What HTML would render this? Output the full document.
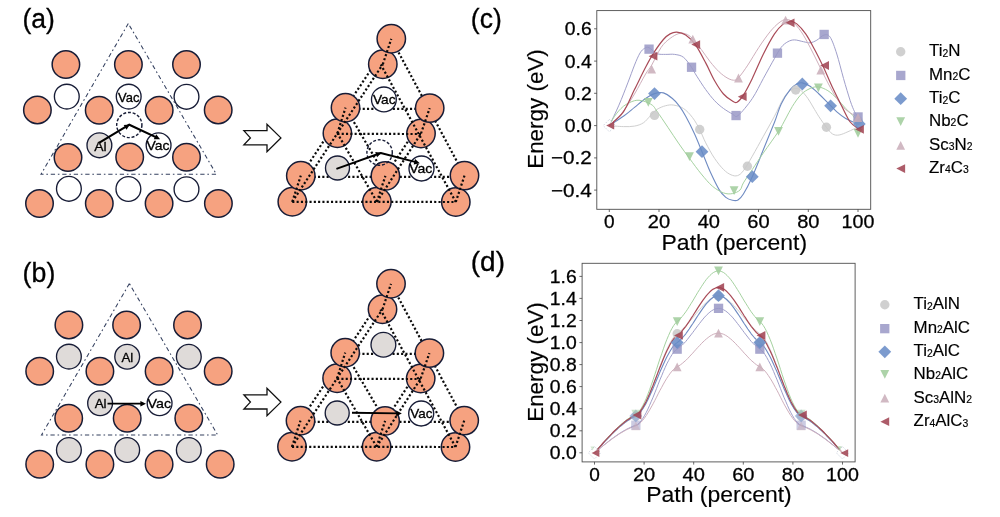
<!DOCTYPE html>
<html><head><meta charset="utf-8"><title>figure</title>
<style>
html,body{margin:0;padding:0;background:#fff;}
body{width:1000px;height:517px;overflow:hidden;}
svg{display:block;filter:blur(0.3px);font-family:'Liberation Sans', sans-serif;}
</style></head><body>
<svg width="1000" height="517" viewBox="0 0 1000 517">
<rect width="1000" height="517" fill="#fff"/>
<circle cx="65.9" cy="64.6" r="13.75" fill="#f6a280" stroke="#171c36" stroke-width="1.5"/>
<circle cx="128.4" cy="64.6" r="13.75" fill="#f6a280" stroke="#171c36" stroke-width="1.5"/>
<circle cx="186.5" cy="64.6" r="13.75" fill="#f6a280" stroke="#171c36" stroke-width="1.5"/>
<circle cx="37.4" cy="109.9" r="13.75" fill="#f6a280" stroke="#171c36" stroke-width="1.5"/>
<circle cx="99.2" cy="110.3" r="13.75" fill="#f6a280" stroke="#171c36" stroke-width="1.5"/>
<circle cx="159.2" cy="110.3" r="13.75" fill="#f6a280" stroke="#171c36" stroke-width="1.5"/>
<circle cx="218.2" cy="109.9" r="13.75" fill="#f6a280" stroke="#171c36" stroke-width="1.5"/>
<circle cx="68.0" cy="157.6" r="13.75" fill="#f6a280" stroke="#171c36" stroke-width="1.5"/>
<circle cx="129.7" cy="157.0" r="13.75" fill="#f6a280" stroke="#171c36" stroke-width="1.5"/>
<circle cx="186.5" cy="157.3" r="13.75" fill="#f6a280" stroke="#171c36" stroke-width="1.5"/>
<circle cx="39.5" cy="203.6" r="13.75" fill="#f6a280" stroke="#171c36" stroke-width="1.5"/>
<circle cx="99.3" cy="203.6" r="13.75" fill="#f6a280" stroke="#171c36" stroke-width="1.5"/>
<circle cx="159.1" cy="203.6" r="13.75" fill="#f6a280" stroke="#171c36" stroke-width="1.5"/>
<circle cx="218.4" cy="203.6" r="13.75" fill="#f6a280" stroke="#171c36" stroke-width="1.5"/>
<circle cx="66.8" cy="96.6" r="12.40" fill="#ffffff" stroke="#171c36" stroke-width="1.35"/>
<circle cx="128.7" cy="96.6" r="12.40" fill="#ffffff" stroke="#171c36" stroke-width="1.35"/>
<circle cx="186.5" cy="96.8" r="12.40" fill="#ffffff" stroke="#171c36" stroke-width="1.35"/>
<circle cx="68.9" cy="188.8" r="12.40" fill="#ffffff" stroke="#171c36" stroke-width="1.35"/>
<circle cx="128.4" cy="189.0" r="12.40" fill="#ffffff" stroke="#171c36" stroke-width="1.35"/>
<circle cx="186.5" cy="189.2" r="12.40" fill="#ffffff" stroke="#171c36" stroke-width="1.35"/>
<circle cx="158.6" cy="145.3" r="12.40" fill="#ffffff" stroke="#171c36" stroke-width="1.35"/>
<circle cx="99.4" cy="145.3" r="12.40" fill="#dfdbd9" stroke="#171c36" stroke-width="1.35"/>
<circle cx="129.3" cy="125.0" r="12.60" fill="none" stroke="#171c36" stroke-width="1.45" stroke-dasharray="3 1.8"/>
<path d="M128.3 23.5 L41.0 174.3 L216.4 174.3 Z" fill="none" stroke="#34405f" stroke-width="1.05" stroke-dasharray="4.3 2.8 1.6 2.8"/>
<text x="128.8" y="102.3" font-size="12.6" text-anchor="middle" fill="#000" stroke="#000" stroke-width="0.3" textLength="21.4" lengthAdjust="spacingAndGlyphs">Vac</text>
<text x="158.1" y="150.4" font-size="13.3" text-anchor="middle" fill="#000" stroke="#000" stroke-width="0.3" textLength="23.0" lengthAdjust="spacingAndGlyphs">Vac</text>
<text x="100.5" y="150.9" font-size="13.6" text-anchor="middle" fill="#000" stroke="#000" stroke-width="0.3" textLength="12.4" lengthAdjust="spacingAndGlyphs">Al</text>
<path d="M99.4 142.6 L129.3 124.7 L157.4 137.9" fill="none" stroke="#000" stroke-width="2.15" stroke-linejoin="round"/>
<circle cx="68.9" cy="324.9" r="13.75" fill="#f6a280" stroke="#171c36" stroke-width="1.5"/>
<circle cx="126.6" cy="324.9" r="13.75" fill="#f6a280" stroke="#171c36" stroke-width="1.5"/>
<circle cx="187.5" cy="324.9" r="13.75" fill="#f6a280" stroke="#171c36" stroke-width="1.5"/>
<circle cx="39.7" cy="371.2" r="13.75" fill="#f6a280" stroke="#171c36" stroke-width="1.5"/>
<circle cx="99.9" cy="371.2" r="13.75" fill="#f6a280" stroke="#171c36" stroke-width="1.5"/>
<circle cx="159.1" cy="371.2" r="13.75" fill="#f6a280" stroke="#171c36" stroke-width="1.5"/>
<circle cx="218.2" cy="371.2" r="13.75" fill="#f6a280" stroke="#171c36" stroke-width="1.5"/>
<circle cx="68.7" cy="418.3" r="13.75" fill="#f6a280" stroke="#171c36" stroke-width="1.5"/>
<circle cx="127.2" cy="418.3" r="13.75" fill="#f6a280" stroke="#171c36" stroke-width="1.5"/>
<circle cx="188.8" cy="418.3" r="13.75" fill="#f6a280" stroke="#171c36" stroke-width="1.5"/>
<circle cx="39.7" cy="464.3" r="13.75" fill="#f6a280" stroke="#171c36" stroke-width="1.5"/>
<circle cx="99.9" cy="464.3" r="13.75" fill="#f6a280" stroke="#171c36" stroke-width="1.5"/>
<circle cx="159.1" cy="464.3" r="13.75" fill="#f6a280" stroke="#171c36" stroke-width="1.5"/>
<circle cx="220.2" cy="464.3" r="13.75" fill="#f6a280" stroke="#171c36" stroke-width="1.5"/>
<circle cx="68.9" cy="356.6" r="12.40" fill="#dfdbd9" stroke="#171c36" stroke-width="1.35"/>
<circle cx="127.2" cy="356.8" r="12.40" fill="#dfdbd9" stroke="#171c36" stroke-width="1.35"/>
<circle cx="188.8" cy="356.8" r="12.40" fill="#dfdbd9" stroke="#171c36" stroke-width="1.35"/>
<circle cx="68.9" cy="450.0" r="12.40" fill="#dfdbd9" stroke="#171c36" stroke-width="1.35"/>
<circle cx="127.2" cy="450.0" r="12.40" fill="#dfdbd9" stroke="#171c36" stroke-width="1.35"/>
<circle cx="188.8" cy="450.0" r="12.40" fill="#dfdbd9" stroke="#171c36" stroke-width="1.35"/>
<circle cx="100.1" cy="403.2" r="12.40" fill="#dfdbd9" stroke="#171c36" stroke-width="1.35"/>
<circle cx="159.6" cy="403.2" r="12.40" fill="#ffffff" stroke="#171c36" stroke-width="1.35"/>
<path d="M129.4 283.6 L41.5 435.0 L217.7 435.0 Z" fill="none" stroke="#34405f" stroke-width="1.05" stroke-dasharray="4.3 2.8 1.6 2.8"/>
<text x="127.4" y="361.6" font-size="13.4" text-anchor="middle" fill="#000" stroke="#000" stroke-width="0.3">Al</text>
<text x="100.6" y="407.9" font-size="13.4" text-anchor="middle" fill="#000" stroke="#000" stroke-width="0.3">Al</text>
<text x="159.3" y="408.1" font-size="13.4" text-anchor="middle" fill="#000" stroke="#000" stroke-width="0.3" textLength="23.5" lengthAdjust="spacingAndGlyphs">Vac</text>
<path d="M107.5 403.7 L142.5 403.7" fill="none" stroke="#000" stroke-width="1.8"/>
<text x="22.4" y="27.6" font-size="27" text-anchor="start" fill="#000" stroke="#000" stroke-width="0.3" textLength="32.4" lengthAdjust="spacingAndGlyphs">(a)</text>
<text x="22.6" y="282.0" font-size="27" text-anchor="start" fill="#000" stroke="#000" stroke-width="0.3" textLength="32.7" lengthAdjust="spacingAndGlyphs">(b)</text>
<text x="470.8" y="27.6" font-size="27" text-anchor="start" fill="#000" stroke="#000" stroke-width="0.3" textLength="31.0" lengthAdjust="spacingAndGlyphs">(c)</text>
<text x="470.8" y="270.8" font-size="27" text-anchor="start" fill="#000" stroke="#000" stroke-width="0.3" textLength="34.2" lengthAdjust="spacingAndGlyphs">(d)</text>
<path d="M243.9 130.6 L267.0 130.6 L267.0 124.2 L280.9 137.9 L267.0 151.6 L267.0 144.8 L243.9 144.8 L250.4 137.9 Z" fill="#fff" stroke="#111" stroke-width="1.3" stroke-linejoin="miter"/>
<path d="M243.9 394.8 L267.0 394.8 L267.0 388.4 L280.9 402.1 L267.0 415.8 L267.0 409.0 L243.9 409.0 L250.4 402.1 Z" fill="#fff" stroke="#111" stroke-width="1.3" stroke-linejoin="miter"/>
<path d="M129.9 124.4 L126.5 129.7 L123.7 124.9 Z" fill="#000"/>
<path d="M160.1 139.2 L153.8 139.3 L156.2 134.3 Z" fill="#000"/>
<path d="M146.0 403.7 L140.4 406.5 L140.4 400.9 Z" fill="#000"/>
<path d="M300.8 176.9 L464.5 176.8" stroke="#0b0b0b" stroke-width="2.2" stroke-dasharray="2.1 2.2" fill="none" stroke-dashoffset="0"/>
<path d="M345.5 108.8 L429.7 108.9" stroke="#0b0b0b" stroke-width="2.2" stroke-dasharray="2.1 2.2" fill="none" stroke-dashoffset="0"/>
<path d="M300.8 175.7 L391.3 38.8" stroke="#0b0b0b" stroke-width="2.2" stroke-dasharray="2.1 2.2" fill="none" stroke-dashoffset="0"/>
<path d="M464.5 175.6 L391.3 38.8" stroke="#0b0b0b" stroke-width="2.2" stroke-dasharray="2.1 2.2" fill="none" stroke-dashoffset="0"/>
<path d="M385.4 175.9 L345.5 107.7" stroke="#0b0b0b" stroke-width="2.2" stroke-dasharray="2.1 2.2" fill="none" stroke-dashoffset="0"/>
<path d="M385.4 175.9 L429.7 108.1" stroke="#0b0b0b" stroke-width="2.2" stroke-dasharray="2.1 2.2" fill="none" stroke-dashoffset="0"/>
<circle cx="292.3" cy="201.8" r="14.20" fill="#f6a280" stroke="#171c36" stroke-width="1.5"/>
<circle cx="376.9" cy="201.8" r="14.20" fill="#f6a280" stroke="#171c36" stroke-width="1.5"/>
<circle cx="455.8" cy="202.0" r="14.20" fill="#f6a280" stroke="#171c36" stroke-width="1.5"/>
<circle cx="337.4" cy="133.3" r="14.20" fill="#f6a280" stroke="#171c36" stroke-width="1.5"/>
<circle cx="421.0" cy="133.5" r="14.20" fill="#f6a280" stroke="#171c36" stroke-width="1.5"/>
<circle cx="382.8" cy="64.3" r="14.20" fill="#f6a280" stroke="#171c36" stroke-width="1.5"/>
<circle cx="300.8" cy="175.7" r="14.20" fill="#f6a280" stroke="#171c36" stroke-width="1.5"/>
<circle cx="385.4" cy="175.9" r="14.20" fill="#f6a280" stroke="#171c36" stroke-width="1.5"/>
<circle cx="464.5" cy="175.6" r="14.20" fill="#f6a280" stroke="#171c36" stroke-width="1.5"/>
<circle cx="345.5" cy="107.7" r="14.20" fill="#f6a280" stroke="#171c36" stroke-width="1.5"/>
<circle cx="429.7" cy="108.1" r="14.20" fill="#f6a280" stroke="#171c36" stroke-width="1.5"/>
<circle cx="391.3" cy="38.8" r="14.20" fill="#f6a280" stroke="#171c36" stroke-width="1.5"/>
<circle cx="383.9" cy="99.4" r="12.40" fill="#ffffff" stroke="#171c36" stroke-width="1.35"/>
<circle cx="379.6" cy="152.5" r="12.70" fill="none" stroke="#171c36" stroke-width="1.4" stroke-dasharray="3 1.8"/>
<circle cx="337.5" cy="168.0" r="12.00" fill="#dfdbd9" stroke="#171c36" stroke-width="1.35"/>
<circle cx="421.5" cy="168.5" r="12.50" fill="#ffffff" stroke="#171c36" stroke-width="1.35"/>
<path d="M292.3 201.8 L455.8 202.0" stroke="#0b0b0b" stroke-width="2.2" stroke-dasharray="2.1 2.2" fill="none" stroke-dashoffset="0"/>
<path d="M337.4 133.9 L421.0 134.0" stroke="#0b0b0b" stroke-width="2.2" stroke-dasharray="2.1 2.2" fill="none" stroke-dashoffset="0"/>
<path d="M292.3 201.8 L382.8 64.3" stroke="#0b0b0b" stroke-width="2.2" stroke-dasharray="2.1 2.2" fill="none" stroke-dashoffset="0"/>
<path d="M455.8 202.0 L380.8 64.5" stroke="#0b0b0b" stroke-width="2.2" stroke-dasharray="2.1 2.2" fill="none" stroke-dashoffset="0"/>
<path d="M376.9 201.8 L337.4 133.3" stroke="#0b0b0b" stroke-width="2.2" stroke-dasharray="2.1 2.2" fill="none" stroke-dashoffset="0"/>
<path d="M376.9 201.8 L421.0 133.5" stroke="#0b0b0b" stroke-width="2.2" stroke-dasharray="2.1 2.2" fill="none" stroke-dashoffset="0"/>
<path d="M292.3 201.8 L300.8 175.7" stroke="#0b0b0b" stroke-width="2.2" stroke-dasharray="2.1 2.2" fill="none" stroke-dashoffset="0"/>
<path d="M376.9 201.8 L385.4 175.9" stroke="#0b0b0b" stroke-width="2.2" stroke-dasharray="2.1 2.2" fill="none" stroke-dashoffset="0"/>
<path d="M455.8 202.0 L464.5 175.6" stroke="#0b0b0b" stroke-width="2.2" stroke-dasharray="2.1 2.2" fill="none" stroke-dashoffset="0"/>
<path d="M337.4 133.3 L345.5 107.7" stroke="#0b0b0b" stroke-width="2.2" stroke-dasharray="2.1 2.2" fill="none" stroke-dashoffset="0"/>
<path d="M421.0 133.5 L429.7 108.1" stroke="#0b0b0b" stroke-width="2.2" stroke-dasharray="2.1 2.2" fill="none" stroke-dashoffset="0"/>
<path d="M382.8 64.3 L391.3 38.8" stroke="#0b0b0b" stroke-width="2.2" stroke-dasharray="2.1 2.2" fill="none" stroke-dashoffset="0"/>
<text x="384.2" y="104.2" font-size="13.0" text-anchor="middle" fill="#000" stroke="#000" stroke-width="0.3" textLength="22.6" lengthAdjust="spacingAndGlyphs">Vac</text>
<text x="420.8" y="172.6" font-size="13.0" text-anchor="middle" fill="#000" stroke="#000" stroke-width="0.3" textLength="23.2" lengthAdjust="spacingAndGlyphs">Vac</text>
<path d="M336.4 168.9 L380.8 153.0 L416.9 162.4" fill="none" stroke="#000" stroke-width="1.9" stroke-linejoin="round"/>
<path d="M381.4 152.8 L377.1 157.3 L375.2 152.1 Z" fill="#000"/>
<path d="M419.8 163.2 L413.7 164.5 L415.1 159.1 Z" fill="#000"/>
<path d="M300.5 421.9 L464.2 421.8" stroke="#0b0b0b" stroke-width="2.2" stroke-dasharray="2.1 2.2" fill="none" stroke-dashoffset="0"/>
<path d="M345.2 353.8 L429.4 353.9" stroke="#0b0b0b" stroke-width="2.2" stroke-dasharray="2.1 2.2" fill="none" stroke-dashoffset="0"/>
<path d="M300.5 420.7 L391.0 283.8" stroke="#0b0b0b" stroke-width="2.2" stroke-dasharray="2.1 2.2" fill="none" stroke-dashoffset="0"/>
<path d="M464.2 420.6 L391.0 283.8" stroke="#0b0b0b" stroke-width="2.2" stroke-dasharray="2.1 2.2" fill="none" stroke-dashoffset="0"/>
<path d="M385.1 420.9 L345.2 352.7" stroke="#0b0b0b" stroke-width="2.2" stroke-dasharray="2.1 2.2" fill="none" stroke-dashoffset="0"/>
<path d="M385.1 420.9 L429.4 353.1" stroke="#0b0b0b" stroke-width="2.2" stroke-dasharray="2.1 2.2" fill="none" stroke-dashoffset="0"/>
<circle cx="292.0" cy="446.8" r="14.20" fill="#f6a280" stroke="#171c36" stroke-width="1.5"/>
<circle cx="376.6" cy="446.8" r="14.20" fill="#f6a280" stroke="#171c36" stroke-width="1.5"/>
<circle cx="455.5" cy="447.0" r="14.20" fill="#f6a280" stroke="#171c36" stroke-width="1.5"/>
<circle cx="337.1" cy="378.3" r="14.20" fill="#f6a280" stroke="#171c36" stroke-width="1.5"/>
<circle cx="420.7" cy="378.5" r="14.20" fill="#f6a280" stroke="#171c36" stroke-width="1.5"/>
<circle cx="382.5" cy="309.3" r="14.20" fill="#f6a280" stroke="#171c36" stroke-width="1.5"/>
<circle cx="300.5" cy="420.7" r="14.20" fill="#f6a280" stroke="#171c36" stroke-width="1.5"/>
<circle cx="385.1" cy="420.9" r="14.20" fill="#f6a280" stroke="#171c36" stroke-width="1.5"/>
<circle cx="464.2" cy="420.6" r="14.20" fill="#f6a280" stroke="#171c36" stroke-width="1.5"/>
<circle cx="345.2" cy="352.7" r="14.20" fill="#f6a280" stroke="#171c36" stroke-width="1.5"/>
<circle cx="429.4" cy="353.1" r="14.20" fill="#f6a280" stroke="#171c36" stroke-width="1.5"/>
<circle cx="391.0" cy="283.8" r="14.20" fill="#f6a280" stroke="#171c36" stroke-width="1.5"/>
<circle cx="383.4" cy="344.8" r="12.40" fill="#dfdbd9" stroke="#171c36" stroke-width="1.35"/>
<circle cx="337.2" cy="413.0" r="12.00" fill="#dfdbd9" stroke="#171c36" stroke-width="1.35"/>
<circle cx="421.2" cy="413.5" r="12.50" fill="#ffffff" stroke="#171c36" stroke-width="1.35"/>
<path d="M292.0 446.8 L455.5 447.0" stroke="#0b0b0b" stroke-width="2.2" stroke-dasharray="2.1 2.2" fill="none" stroke-dashoffset="0"/>
<path d="M337.1 378.9 L420.7 379.0" stroke="#0b0b0b" stroke-width="2.2" stroke-dasharray="2.1 2.2" fill="none" stroke-dashoffset="0"/>
<path d="M292.0 446.8 L382.5 309.3" stroke="#0b0b0b" stroke-width="2.2" stroke-dasharray="2.1 2.2" fill="none" stroke-dashoffset="0"/>
<path d="M455.5 447.0 L380.5 309.5" stroke="#0b0b0b" stroke-width="2.2" stroke-dasharray="2.1 2.2" fill="none" stroke-dashoffset="0"/>
<path d="M376.6 446.8 L337.1 378.3" stroke="#0b0b0b" stroke-width="2.2" stroke-dasharray="2.1 2.2" fill="none" stroke-dashoffset="0"/>
<path d="M376.6 446.8 L420.7 378.5" stroke="#0b0b0b" stroke-width="2.2" stroke-dasharray="2.1 2.2" fill="none" stroke-dashoffset="0"/>
<path d="M292.0 446.8 L300.5 420.7" stroke="#0b0b0b" stroke-width="2.2" stroke-dasharray="2.1 2.2" fill="none" stroke-dashoffset="0"/>
<path d="M376.6 446.8 L385.1 420.9" stroke="#0b0b0b" stroke-width="2.2" stroke-dasharray="2.1 2.2" fill="none" stroke-dashoffset="0"/>
<path d="M455.5 447.0 L464.2 420.6" stroke="#0b0b0b" stroke-width="2.2" stroke-dasharray="2.1 2.2" fill="none" stroke-dashoffset="0"/>
<path d="M337.1 378.3 L345.2 352.7" stroke="#0b0b0b" stroke-width="2.2" stroke-dasharray="2.1 2.2" fill="none" stroke-dashoffset="0"/>
<path d="M420.7 378.5 L429.4 353.1" stroke="#0b0b0b" stroke-width="2.2" stroke-dasharray="2.1 2.2" fill="none" stroke-dashoffset="0"/>
<path d="M382.5 309.3 L391.0 283.8" stroke="#0b0b0b" stroke-width="2.2" stroke-dasharray="2.1 2.2" fill="none" stroke-dashoffset="0"/>
<text x="421.3" y="417.6" font-size="13.2" text-anchor="middle" fill="#000" stroke="#000" stroke-width="0.3" textLength="22.2" lengthAdjust="spacingAndGlyphs">Vac</text>
<path d="M352.0 412.8 L398.0 413.4" fill="none" stroke="#000" stroke-width="1.9" stroke-linejoin="round"/>
<path d="M401.8 413.5 L396.2 416.2 L396.2 410.6 Z" fill="#000"/>
<rect x="596.8" y="10.6" width="273.9" height="198.7" fill="#fff" stroke="#4e4e4e" stroke-width="0.9"/>
<path d="M609.3 209.3 v2.7" stroke="#444" stroke-width="0.8"/>
<text x="609.3" y="228.3" font-size="18.2" text-anchor="middle" fill="#000" stroke="#000" stroke-width="0.28" textLength="10.6" lengthAdjust="spacingAndGlyphs">0</text>
<path d="M659.0 209.3 v2.7" stroke="#444" stroke-width="0.8"/>
<text x="659.0" y="228.3" font-size="18.2" text-anchor="middle" fill="#000" stroke="#000" stroke-width="0.28" textLength="22.3" lengthAdjust="spacingAndGlyphs">20</text>
<path d="M708.8 209.3 v2.7" stroke="#444" stroke-width="0.8"/>
<text x="708.8" y="228.3" font-size="18.2" text-anchor="middle" fill="#000" stroke="#000" stroke-width="0.28" textLength="22.3" lengthAdjust="spacingAndGlyphs">40</text>
<path d="M758.5 209.3 v2.7" stroke="#444" stroke-width="0.8"/>
<text x="758.5" y="228.3" font-size="18.2" text-anchor="middle" fill="#000" stroke="#000" stroke-width="0.28" textLength="22.3" lengthAdjust="spacingAndGlyphs">60</text>
<path d="M808.3 209.3 v2.7" stroke="#444" stroke-width="0.8"/>
<text x="808.3" y="228.3" font-size="18.2" text-anchor="middle" fill="#000" stroke="#000" stroke-width="0.28" textLength="22.3" lengthAdjust="spacingAndGlyphs">80</text>
<path d="M858.0 209.3 v2.7" stroke="#444" stroke-width="0.8"/>
<text x="858.0" y="228.3" font-size="18.2" text-anchor="middle" fill="#000" stroke="#000" stroke-width="0.28" textLength="32.8" lengthAdjust="spacingAndGlyphs">100</text>
<path d="M596.8 28.8 h-2.7" stroke="#444" stroke-width="0.8"/>
<text x="591.7" y="35.2" font-size="18.2" text-anchor="end" fill="#000" stroke="#000" stroke-width="0.28" textLength="26.9" lengthAdjust="spacingAndGlyphs">0.6</text>
<path d="M596.8 61.1 h-2.7" stroke="#444" stroke-width="0.8"/>
<text x="591.7" y="67.5" font-size="18.2" text-anchor="end" fill="#000" stroke="#000" stroke-width="0.28" textLength="26.9" lengthAdjust="spacingAndGlyphs">0.4</text>
<path d="M596.8 93.3 h-2.7" stroke="#444" stroke-width="0.8"/>
<text x="591.7" y="99.7" font-size="18.2" text-anchor="end" fill="#000" stroke="#000" stroke-width="0.28" textLength="26.9" lengthAdjust="spacingAndGlyphs">0.2</text>
<path d="M596.8 125.6 h-2.7" stroke="#444" stroke-width="0.8"/>
<text x="591.7" y="132.0" font-size="18.2" text-anchor="end" fill="#000" stroke="#000" stroke-width="0.28" textLength="26.9" lengthAdjust="spacingAndGlyphs">0.0</text>
<path d="M596.8 157.9 h-2.7" stroke="#444" stroke-width="0.8"/>
<text x="591.7" y="164.3" font-size="18.2" text-anchor="end" fill="#000" stroke="#000" stroke-width="0.28" textLength="40.8" lengthAdjust="spacingAndGlyphs">&#8722;0.2</text>
<path d="M596.8 190.1 h-2.7" stroke="#444" stroke-width="0.8"/>
<text x="591.7" y="196.5" font-size="18.2" text-anchor="end" fill="#000" stroke="#000" stroke-width="0.28" textLength="40.8" lengthAdjust="spacingAndGlyphs">&#8722;0.4</text>
<text x="734.3" y="249.6" font-size="21.6" text-anchor="middle" fill="#000" stroke="#000" stroke-width="0.15" textLength="145.5" lengthAdjust="spacingAndGlyphs">Path (percent)</text>
<text transform="translate(542.8 109.0) rotate(-90)" font-size="21.6" text-anchor="middle" fill="#000" stroke="#000" stroke-width="0.15" textLength="119.6" lengthAdjust="spacingAndGlyphs">Energy (eV)</text>
<path d="M609.4 125.6 C611.7 125.8 619.2 126.5 623.4 126.6 C627.6 126.7 631.2 126.7 634.5 126.1 C637.8 125.5 640.8 124.5 643.4 122.8 C646.0 121.1 647.9 118.3 650.1 116.1 C652.3 113.9 654.2 111.2 656.8 109.5 C659.4 107.8 662.9 106.4 665.7 105.7 C668.5 105.0 670.8 104.6 673.8 105.1 C676.8 105.6 680.4 106.5 683.5 108.5 C686.6 110.5 689.7 113.9 692.4 117.4 C695.1 120.9 697.5 125.3 699.7 129.5 C701.9 133.7 703.2 138.0 705.7 142.8 C708.2 147.6 711.6 154.0 714.6 158.4 C717.6 162.8 720.8 166.8 723.5 169.5 C726.2 172.2 728.7 173.8 731.0 174.8 C733.3 175.8 735.4 176.3 737.5 175.6 C739.6 174.9 740.9 173.9 743.4 170.7 C745.9 167.5 749.0 161.9 752.3 156.2 C755.6 150.4 759.7 142.9 763.4 136.2 C767.1 129.5 771.2 122.5 774.5 116.2 C777.8 109.9 780.8 102.8 783.4 98.5 C786.0 94.2 788.0 92.4 790.1 90.7 C792.2 89.0 793.9 88.5 795.7 88.5 C797.6 88.5 799.2 89.0 801.2 90.7 C803.2 92.4 805.7 95.3 807.9 98.5 C810.1 101.7 812.8 106.5 814.6 109.6 C816.5 112.6 817.0 113.8 819.0 116.8 C821.0 119.8 824.2 124.4 826.4 127.3 C828.6 130.2 830.3 132.6 832.4 133.9 C834.5 135.2 836.5 135.4 839.1 135.0 C841.7 134.6 844.9 133.0 848.0 131.7 C851.1 130.4 856.3 127.8 858.0 127.0" fill="none" stroke="#cfcfcf" stroke-width="1.0"/>
<path d="M609.4 125.6 C611.0 122.2 615.8 112.3 618.9 105.2 C622.0 98.1 625.2 89.6 627.8 82.9 C630.4 76.2 632.5 70.1 634.5 65.1 C636.5 60.1 638.4 55.7 640.1 52.9 C641.8 50.1 643.0 49.3 644.5 48.4 C646.0 47.5 647.0 46.7 649.0 47.6 C651.0 48.5 654.0 52.5 656.8 53.6 C659.6 54.7 662.7 54.3 665.7 54.4 C668.7 54.5 671.6 53.9 674.6 54.4 C677.6 54.9 680.7 55.1 683.5 57.3 C686.3 59.4 689.3 64.1 691.5 67.3 C693.7 70.5 694.4 72.5 696.8 76.2 C699.2 79.9 702.7 85.5 705.7 89.6 C708.7 93.7 711.6 97.5 714.6 100.7 C717.6 103.9 720.5 106.3 723.5 108.5 C726.5 110.7 730.0 112.7 732.4 113.9 C734.8 115.1 734.7 118.2 738.0 115.6 C741.3 113.0 748.1 104.7 752.3 98.5 C756.5 92.3 759.7 85.1 763.4 78.4 C767.1 71.7 771.5 63.6 774.5 58.4 C777.5 53.2 779.0 50.1 781.2 47.3 C783.4 44.5 785.7 42.9 787.9 41.7 C790.1 40.5 791.9 39.9 794.5 39.9 C797.1 39.9 800.8 41.2 803.4 41.7 C806.0 42.2 807.9 43.0 810.1 42.8 C812.3 42.5 814.5 41.5 816.8 40.2 C819.1 38.9 821.9 35.5 824.1 35.0 C826.3 34.5 828.1 34.0 830.2 37.2 C832.3 40.4 834.6 47.1 836.8 54.0 C839.0 60.9 841.3 70.6 843.5 78.4 C845.7 86.2 848.4 95.1 850.2 100.7 C852.1 106.3 853.3 109.1 854.6 111.8 C855.9 114.5 857.4 116.0 858.0 116.8" fill="none" stroke="#a09fca" stroke-width="1.0"/>
<path d="M609.4 125.6 C611.7 124.0 619.2 119.3 623.4 116.3 C627.6 113.3 630.8 110.4 634.5 107.4 C638.2 104.4 642.3 100.8 645.6 98.5 C648.9 96.2 651.5 94.5 654.5 93.6 C657.5 92.7 660.4 92.1 663.4 92.9 C666.4 93.7 669.8 96.4 672.4 98.5 C675.0 100.6 676.8 102.6 679.0 105.6 C681.2 108.5 683.1 111.5 685.7 116.2 C688.3 120.9 691.9 128.0 694.6 133.9 C697.3 139.8 699.4 145.4 702.0 151.7 C704.6 158.0 707.4 165.5 710.2 171.8 C713.1 178.1 716.5 185.3 719.1 189.6 C721.7 193.9 723.6 195.6 725.8 197.4 C728.0 199.2 730.4 199.9 732.4 200.3 C734.4 200.7 736.2 201.1 738.0 200.0 C739.8 198.9 741.0 197.9 743.4 194.0 C745.8 190.1 749.0 184.1 752.3 176.7 C755.6 169.3 759.7 158.6 763.4 149.5 C767.1 140.4 771.5 129.8 774.5 122.2 C777.5 114.6 778.6 109.3 781.2 103.9 C783.8 98.5 787.5 92.9 790.1 89.6 C792.7 86.3 794.8 85.1 796.8 84.0 C798.8 82.9 800.1 82.5 802.3 82.9 C804.5 83.3 807.3 84.4 810.1 86.2 C812.9 88.0 816.0 91.2 819.0 94.0 C822.0 96.8 824.9 99.9 827.9 102.9 C830.9 105.9 833.8 109.2 836.8 111.8 C839.8 114.4 842.1 116.4 845.7 118.5 C849.3 120.6 856.4 123.2 858.5 124.2" fill="none" stroke="#6f8bc2" stroke-width="1.1"/>
<path d="M609.4 125.6 C610.2 124.0 612.2 119.5 614.5 116.3 C616.8 113.1 620.1 108.9 623.4 106.3 C626.7 103.7 631.2 101.6 634.5 100.7 C637.8 99.8 640.4 100.3 643.4 101.1 C646.4 101.8 650.1 103.5 652.3 105.2 C654.5 106.9 654.2 107.3 656.8 111.0 C659.4 114.7 664.2 121.8 667.9 127.3 C671.6 132.8 675.4 138.7 679.0 143.9 C682.6 149.1 685.8 153.4 689.5 158.4 C693.2 163.4 697.5 169.4 701.3 174.0 C705.1 178.6 708.7 183.0 712.4 186.2 C716.1 189.3 720.2 191.7 723.5 192.9 C726.8 194.1 729.6 194.1 732.4 193.6 C735.1 193.1 738.2 191.8 740.0 190.0 C741.8 188.2 741.4 186.3 743.4 182.9 C745.4 179.5 749.0 174.5 752.3 169.5 C755.6 164.5 759.0 159.3 763.4 152.9 C767.8 146.5 774.8 137.0 778.5 131.3 C782.2 125.7 783.2 123.1 785.5 119.0 C787.8 114.9 789.7 110.6 792.3 106.5 C794.9 102.4 798.2 97.4 801.2 94.4 C804.2 91.4 807.2 89.8 810.1 88.5 C813.0 87.2 815.4 86.5 818.4 86.9 C821.4 87.3 824.8 88.8 827.9 90.7 C831.0 92.6 833.8 95.5 836.8 98.5 C839.8 101.5 842.7 105.2 845.7 108.5 C848.7 111.8 852.6 114.2 854.6 118.3 C856.6 122.4 857.4 130.6 858.0 133.0" fill="none" stroke="#a5d2a0" stroke-width="1.0"/>
<path d="M609.4 125.6 C611.5 123.5 617.8 118.3 622.0 113.0 C626.2 107.7 630.6 100.5 634.5 94.0 C638.4 87.5 642.7 78.8 645.6 74.0 C648.5 69.2 649.1 69.5 651.7 65.1 C654.3 60.6 658.1 51.8 661.2 47.3 C664.3 42.8 667.1 40.7 670.1 38.4 C673.1 36.1 676.4 34.2 679.0 33.5 C681.6 32.8 683.5 33.1 685.7 33.9 C687.9 34.7 689.8 35.8 692.4 38.4 C695.0 41.0 698.3 45.6 701.3 49.5 C704.3 53.4 707.2 58.1 710.2 61.8 C713.2 65.5 716.1 69.0 719.1 71.8 C722.1 74.6 725.4 77.0 728.0 78.4 C730.6 79.8 732.9 80.4 734.7 80.2 C736.5 80.0 736.7 79.8 738.9 77.3 C741.1 74.8 744.5 70.1 747.8 65.1 C751.1 60.1 755.2 52.9 758.9 47.3 C762.6 41.7 766.8 35.8 770.1 31.7 C773.5 27.6 776.4 24.8 779.0 22.8 C781.6 20.8 783.4 19.7 785.6 19.5 C787.8 19.3 789.7 19.7 792.3 21.7 C794.9 23.7 798.2 27.4 801.2 31.7 C804.2 36.0 807.1 41.7 810.1 47.3 C813.1 52.9 816.0 59.2 819.0 65.1 C822.0 71.0 824.9 77.3 827.9 82.9 C830.9 88.5 833.8 94.0 836.8 98.5 C839.8 103.0 842.2 106.5 845.7 109.6 C849.2 112.7 855.5 115.8 857.5 117.0" fill="none" stroke="#cfafbc" stroke-width="1.0"/>
<path d="M609.4 125.6 C611.7 123.3 619.2 117.8 623.4 111.8 C627.6 105.8 630.8 97.0 634.5 89.6 C638.2 82.2 642.3 73.6 645.6 67.3 C648.9 61.0 651.5 56.3 654.5 51.7 C657.5 47.1 660.8 42.5 663.4 39.5 C666.0 36.5 667.9 35.1 670.1 33.9 C672.3 32.7 674.2 32.0 676.8 32.2 C679.4 32.4 682.6 32.9 685.7 35.0 C688.9 37.1 692.4 40.5 695.7 45.1 C699.0 49.8 702.6 57.0 705.7 62.9 C708.9 68.8 711.6 75.5 714.6 80.7 C717.6 85.9 720.5 90.6 723.5 94.0 C726.5 97.4 730.1 99.7 732.4 101.1 C734.6 102.5 735.2 103.2 737.0 102.2 C738.8 101.2 740.9 99.1 743.4 95.1 C745.9 91.1 749.0 85.2 752.3 78.4 C755.6 71.6 759.7 61.4 763.4 54.0 C767.1 46.6 771.2 38.9 774.5 33.9 C777.8 28.9 780.8 26.0 783.4 23.9 C786.0 21.8 787.9 21.0 790.1 21.0 C792.3 21.0 794.2 21.8 796.8 23.9 C799.4 26.0 802.7 29.6 805.7 33.9 C808.7 38.2 811.6 43.9 814.6 49.5 C817.6 55.1 820.5 61.0 823.5 67.3 C826.5 73.6 829.4 81.0 832.4 87.3 C835.4 93.6 838.3 99.4 841.3 105.2 C844.3 111.0 847.2 118.0 850.2 122.0 C853.2 126.0 858.0 128.2 859.5 129.5" fill="none" stroke="#a94b58" stroke-width="1.2"/>
<circle cx="654.5" cy="115.4" r="4.70" fill="#c8c8c8" fill-opacity="0.86"/>
<circle cx="699.7" cy="129.5" r="4.70" fill="#c8c8c8" fill-opacity="0.86"/>
<circle cx="747.4" cy="166.2" r="4.70" fill="#c8c8c8" fill-opacity="0.86"/>
<circle cx="795.7" cy="90.0" r="4.70" fill="#c8c8c8" fill-opacity="0.86"/>
<circle cx="826.4" cy="127.3" r="4.70" fill="#c8c8c8" fill-opacity="0.86"/>
<circle cx="858.0" cy="120.5" r="4.70" fill="#c8c8c8" fill-opacity="0.86"/>
<rect x="644.4" y="44.5" width="9.3" height="9.3" fill="#9a98c6" fill-opacity="0.86"/>
<rect x="686.9" y="62.6" width="9.3" height="9.3" fill="#9a98c6" fill-opacity="0.86"/>
<rect x="731.4" y="110.9" width="9.3" height="9.3" fill="#9a98c6" fill-opacity="0.86"/>
<rect x="772.8" y="48.5" width="9.3" height="9.3" fill="#9a98c6" fill-opacity="0.86"/>
<rect x="819.5" y="29.8" width="9.3" height="9.3" fill="#9a98c6" fill-opacity="0.86"/>
<rect x="853.4" y="112.3" width="9.3" height="9.3" fill="#9a98c6" fill-opacity="0.86"/>
<path d="M654.5 87.2 L660.9 93.6 L654.5 100.0 L648.1 93.6 Z" fill="#668ac6" fill-opacity="0.86"/>
<path d="M702.0 145.3 L708.4 151.7 L702.0 158.1 L695.6 151.7 Z" fill="#668ac6" fill-opacity="0.86"/>
<path d="M752.3 170.3 L758.7 176.7 L752.3 183.1 L745.9 176.7 Z" fill="#668ac6" fill-opacity="0.86"/>
<path d="M802.3 77.6 L808.7 84.0 L802.3 90.4 L795.9 84.0 Z" fill="#668ac6" fill-opacity="0.86"/>
<path d="M830.6 99.4 L837.0 105.8 L830.6 112.2 L824.2 105.8 Z" fill="#668ac6" fill-opacity="0.86"/>
<path d="M859.3 117.5 L865.7 123.9 L859.3 130.3 L852.9 123.9 Z" fill="#668ac6" fill-opacity="0.86"/>
<path d="M643.9 97.9 L652.7 97.9 L648.3 106.7 Z" fill="#a0cc9b" fill-opacity="0.86"/>
<path d="M685.1 152.2 L693.9 152.2 L689.5 161.0 Z" fill="#a0cc9b" fill-opacity="0.86"/>
<path d="M729.7 186.3 L738.5 186.3 L734.1 195.1 Z" fill="#a0cc9b" fill-opacity="0.86"/>
<path d="M774.1 126.9 L782.9 126.9 L778.5 135.7 Z" fill="#a0cc9b" fill-opacity="0.86"/>
<path d="M814.0 83.4 L822.8 83.4 L818.4 92.2 Z" fill="#a0cc9b" fill-opacity="0.86"/>
<path d="M853.6 128.9 L862.4 128.9 L858.0 137.7 Z" fill="#a0cc9b" fill-opacity="0.86"/>
<path d="M647.3 73.5 L656.1 73.5 L651.7 64.7 Z" fill="#c9adb9" fill-opacity="0.86"/>
<path d="M688.4 43.5 L697.2 43.5 L692.8 34.7 Z" fill="#c9adb9" fill-opacity="0.86"/>
<path d="M734.1 82.4 L742.9 82.4 L738.5 73.6 Z" fill="#c9adb9" fill-opacity="0.86"/>
<path d="M781.2 24.5 L790.0 24.5 L785.6 15.7 Z" fill="#c9adb9" fill-opacity="0.86"/>
<path d="M816.4 74.4 L825.2 74.4 L820.8 65.6 Z" fill="#c9adb9" fill-opacity="0.86"/>
<path d="M853.6 121.9 L862.4 121.9 L858.0 113.1 Z" fill="#c9adb9" fill-opacity="0.86"/>
<path d="M609.4 119.4 L615.6 125.6 L609.4 131.8 L603.2 125.6 Z" fill="#fff" fill-opacity="0.55" stroke="#9aa6bd" stroke-opacity="0.5" stroke-width="0.9" stroke-dasharray="1.6 1.4"/>
<path d="M614.2 121.6 L614.2 129.6 L606.2 125.6 Z" fill="#a04150" fill-opacity="0.86"/>
<path d="M657.4 51.8 L657.4 60.6 L648.6 56.2 Z" fill="#a04150" fill-opacity="0.86"/>
<path d="M700.1 40.2 L700.1 49.0 L691.3 44.6 Z" fill="#a04150" fill-opacity="0.86"/>
<path d="M746.6 92.3 L746.6 101.1 L737.8 96.7 Z" fill="#a04150" fill-opacity="0.86"/>
<path d="M794.5 18.4 L794.5 27.2 L785.7 22.8 Z" fill="#a04150" fill-opacity="0.86"/>
<path d="M829.0 61.1 L829.0 69.9 L820.2 65.5 Z" fill="#a04150" fill-opacity="0.86"/>
<path d="M863.9 124.9 L863.9 133.7 L855.1 129.3 Z" fill="#a04150" fill-opacity="0.86"/>
<circle cx="900.7" cy="51.7" r="4.70" fill="#c8c8c8" fill-opacity="0.86"/>
<text x="929.0" y="56.2" font-size="16.9" text-anchor="start" fill="#000" stroke="#000" stroke-width="0.15">Ti<tspan font-size="10.4" dy="0.3">2</tspan><tspan dy="-0.3" font-size="16.9">&#8203;</tspan>N</text>
<rect x="896.1" y="70.8" width="9.3" height="9.3" fill="#9a98c6" fill-opacity="0.86"/>
<text x="929.0" y="80.0" font-size="16.9" text-anchor="start" fill="#000" stroke="#000" stroke-width="0.15">Mn<tspan font-size="10.4" dy="0.3">2</tspan><tspan dy="-0.3" font-size="16.9">&#8203;</tspan>C</text>
<path d="M900.7 92.3 L907.1 98.7 L900.7 105.1 L894.3 98.7 Z" fill="#668ac6" fill-opacity="0.86"/>
<text x="929.0" y="103.2" font-size="16.9" text-anchor="start" fill="#000" stroke="#000" stroke-width="0.15">Ti<tspan font-size="10.4" dy="0.3">2</tspan><tspan dy="-0.3" font-size="16.9">&#8203;</tspan>C</text>
<path d="M896.3 117.2 L905.1 117.2 L900.7 126.0 Z" fill="#a0cc9b" fill-opacity="0.86"/>
<text x="929.0" y="126.1" font-size="16.9" text-anchor="start" fill="#000" stroke="#000" stroke-width="0.15">Nb<tspan font-size="10.4" dy="0.3">2</tspan><tspan dy="-0.3" font-size="16.9">&#8203;</tspan>C</text>
<path d="M896.3 149.8 L905.1 149.8 L900.7 141.0 Z" fill="#c9adb9" fill-opacity="0.86"/>
<text x="929.0" y="149.9" font-size="16.9" text-anchor="start" fill="#000" stroke="#000" stroke-width="0.15">Sc<tspan font-size="10.4" dy="0.3">3</tspan><tspan dy="-0.3" font-size="16.9">&#8203;</tspan>N<tspan font-size="10.4" dy="0.3">2</tspan><tspan dy="-0.3" font-size="16.9">&#8203;</tspan></text>
<path d="M905.1 164.2 L905.1 173.0 L896.3 168.6 Z" fill="#a04150" fill-opacity="0.86"/>
<text x="929.0" y="173.1" font-size="16.9" text-anchor="start" fill="#000" stroke="#000" stroke-width="0.15">Zr<tspan font-size="10.4" dy="0.3">4</tspan><tspan dy="-0.3" font-size="16.9">&#8203;</tspan>C<tspan font-size="10.4" dy="0.3">3</tspan><tspan dy="-0.3" font-size="16.9">&#8203;</tspan></text>
<rect x="582.1" y="263.3" width="273.0" height="198.6" fill="#fff" stroke="#4e4e4e" stroke-width="0.9"/>
<path d="M594.5 461.9 v2.7" stroke="#444" stroke-width="0.8"/>
<text x="594.5" y="480.9" font-size="18.2" text-anchor="middle" fill="#000" stroke="#000" stroke-width="0.28" textLength="10.6" lengthAdjust="spacingAndGlyphs">0</text>
<path d="M644.1 461.9 v2.7" stroke="#444" stroke-width="0.8"/>
<text x="644.1" y="480.9" font-size="18.2" text-anchor="middle" fill="#000" stroke="#000" stroke-width="0.28" textLength="22.3" lengthAdjust="spacingAndGlyphs">20</text>
<path d="M693.7 461.9 v2.7" stroke="#444" stroke-width="0.8"/>
<text x="693.7" y="480.9" font-size="18.2" text-anchor="middle" fill="#000" stroke="#000" stroke-width="0.28" textLength="22.3" lengthAdjust="spacingAndGlyphs">40</text>
<path d="M743.3 461.9 v2.7" stroke="#444" stroke-width="0.8"/>
<text x="743.3" y="480.9" font-size="18.2" text-anchor="middle" fill="#000" stroke="#000" stroke-width="0.28" textLength="22.3" lengthAdjust="spacingAndGlyphs">60</text>
<path d="M792.9 461.9 v2.7" stroke="#444" stroke-width="0.8"/>
<text x="792.9" y="480.9" font-size="18.2" text-anchor="middle" fill="#000" stroke="#000" stroke-width="0.28" textLength="22.3" lengthAdjust="spacingAndGlyphs">80</text>
<path d="M842.5 461.9 v2.7" stroke="#444" stroke-width="0.8"/>
<text x="842.5" y="480.9" font-size="18.2" text-anchor="middle" fill="#000" stroke="#000" stroke-width="0.28" textLength="32.8" lengthAdjust="spacingAndGlyphs">100</text>
<path d="M582.1 452.8 h-2.7" stroke="#444" stroke-width="0.8"/>
<text x="576.7" y="459.2" font-size="18.2" text-anchor="end" fill="#000" stroke="#000" stroke-width="0.28" textLength="26.9" lengthAdjust="spacingAndGlyphs">0.0</text>
<path d="M582.1 430.8 h-2.7" stroke="#444" stroke-width="0.8"/>
<text x="576.7" y="437.1" font-size="18.2" text-anchor="end" fill="#000" stroke="#000" stroke-width="0.28" textLength="26.9" lengthAdjust="spacingAndGlyphs">0.2</text>
<path d="M582.1 408.7 h-2.7" stroke="#444" stroke-width="0.8"/>
<text x="576.7" y="415.1" font-size="18.2" text-anchor="end" fill="#000" stroke="#000" stroke-width="0.28" textLength="26.9" lengthAdjust="spacingAndGlyphs">0.4</text>
<path d="M582.1 386.6 h-2.7" stroke="#444" stroke-width="0.8"/>
<text x="576.7" y="393.0" font-size="18.2" text-anchor="end" fill="#000" stroke="#000" stroke-width="0.28" textLength="26.9" lengthAdjust="spacingAndGlyphs">0.6</text>
<path d="M582.1 364.6 h-2.7" stroke="#444" stroke-width="0.8"/>
<text x="576.7" y="371.0" font-size="18.2" text-anchor="end" fill="#000" stroke="#000" stroke-width="0.28" textLength="26.9" lengthAdjust="spacingAndGlyphs">0.8</text>
<path d="M582.1 342.6 h-2.7" stroke="#444" stroke-width="0.8"/>
<text x="576.7" y="348.9" font-size="18.2" text-anchor="end" fill="#000" stroke="#000" stroke-width="0.28" textLength="26.9" lengthAdjust="spacingAndGlyphs">1.0</text>
<path d="M582.1 320.5 h-2.7" stroke="#444" stroke-width="0.8"/>
<text x="576.7" y="326.9" font-size="18.2" text-anchor="end" fill="#000" stroke="#000" stroke-width="0.28" textLength="26.9" lengthAdjust="spacingAndGlyphs">1.2</text>
<path d="M582.1 298.4 h-2.7" stroke="#444" stroke-width="0.8"/>
<text x="576.7" y="304.8" font-size="18.2" text-anchor="end" fill="#000" stroke="#000" stroke-width="0.28" textLength="26.9" lengthAdjust="spacingAndGlyphs">1.4</text>
<path d="M582.1 276.4 h-2.7" stroke="#444" stroke-width="0.8"/>
<text x="576.7" y="282.8" font-size="18.2" text-anchor="end" fill="#000" stroke="#000" stroke-width="0.28" textLength="26.9" lengthAdjust="spacingAndGlyphs">1.6</text>
<text x="719.0" y="502.4" font-size="21.6" text-anchor="middle" fill="#000" stroke="#000" stroke-width="0.15" textLength="145.5" lengthAdjust="spacingAndGlyphs">Path (percent)</text>
<text transform="translate(542.8 362.0) rotate(-90)" font-size="21.6" text-anchor="middle" fill="#000" stroke="#000" stroke-width="0.15" textLength="119.6" lengthAdjust="spacingAndGlyphs">Energy (eV)</text>
<path d="M594.5 452.8 L596.2 450.9 L597.9 449.0 L599.7 447.1 L601.4 445.3 L603.1 443.4 L604.8 441.6 L606.6 439.8 L608.3 438.0 L610.0 436.2 L611.7 434.5 L613.4 432.8 L615.2 431.2 L616.9 429.6 L618.6 428.1 L620.3 426.6 L622.1 425.2 L623.8 423.8 L625.5 422.5 L627.2 421.3 L629.0 420.2 L630.7 419.1 L632.4 418.1 L634.1 417.2 L635.8 416.4 L637.6 415.3 L639.3 413.7 L641.0 411.5 L642.7 408.8 L644.4 405.7 L646.2 402.2 L647.9 398.4 L649.6 394.3 L651.3 390.0 L653.1 385.5 L654.8 380.8 L656.5 376.2 L658.2 371.5 L659.9 366.8 L661.7 362.2 L663.4 357.8 L665.1 353.6 L666.8 349.6 L668.6 345.9 L670.3 342.5 L672.0 339.6 L673.7 337.1 L675.4 335.1 L677.2 333.7 L678.9 332.5 L680.6 331.1 L682.3 329.5 L684.0 327.8 L685.8 326.0 L687.5 324.1 L689.2 322.1 L690.9 320.0 L692.7 317.9 L694.4 315.8 L696.1 313.7 L697.8 311.6 L699.6 309.6 L701.3 307.6 L703.0 305.7 L704.7 304.0 L706.4 302.3 L708.2 300.8 L709.9 299.5 L711.6 298.4 L713.3 297.5 L715.1 296.8 L716.8 296.4 L718.5 296.2 L720.2 296.4 L721.9 296.8 L723.7 297.5 L725.4 298.4 L727.1 299.5 L728.8 300.8 L730.6 302.3 L732.3 304.0 L734.0 305.7 L735.7 307.6 L737.4 309.6 L739.2 311.6 L740.9 313.7 L742.6 315.8 L744.3 317.9 L746.1 320.0 L747.8 322.1 L749.5 324.1 L751.2 326.0 L753.0 327.8 L754.7 329.5 L756.4 331.1 L758.1 332.5 L759.8 333.7 L761.6 335.1 L763.3 337.1 L765.0 339.6 L766.7 342.5 L768.4 345.9 L770.2 349.6 L771.9 353.6 L773.6 357.8 L775.3 362.2 L777.1 366.8 L778.8 371.5 L780.5 376.2 L782.2 380.8 L783.9 385.5 L785.7 390.0 L787.4 394.3 L789.1 398.4 L790.8 402.2 L792.6 405.7 L794.3 408.8 L796.0 411.5 L797.7 413.7 L799.4 415.3 L801.2 416.4 L802.9 417.2 L804.6 418.1 L806.3 419.1 L808.0 420.2 L809.8 421.3 L811.5 422.5 L813.2 423.8 L814.9 425.2 L816.7 426.6 L818.4 428.1 L820.1 429.6 L821.8 431.2 L823.6 432.8 L825.3 434.5 L827.0 436.2 L828.7 438.0 L830.4 439.8 L832.2 441.6 L833.9 443.4 L835.6 445.3 L837.3 447.1 L839.1 449.0 L840.8 450.9 L842.5 452.8" fill="none" stroke="#cfcfcf" stroke-width="1.0" stroke-linejoin="round"/>
<path d="M594.5 452.8 L596.2 451.4 L597.9 449.9 L599.7 448.5 L601.4 447.1 L603.1 445.7 L604.8 444.3 L606.6 442.9 L608.3 441.6 L610.0 440.2 L611.7 438.9 L613.4 437.7 L615.2 436.4 L616.9 435.2 L618.6 434.1 L620.3 432.9 L622.1 431.9 L623.8 430.8 L625.5 429.9 L627.2 428.9 L629.0 428.1 L630.7 427.3 L632.4 426.5 L634.1 425.8 L635.8 425.2 L637.6 424.4 L639.3 422.9 L641.0 421.0 L642.7 418.6 L644.4 415.8 L646.2 412.6 L647.9 409.1 L649.6 405.3 L651.3 401.3 L653.1 397.2 L654.8 392.9 L656.5 388.6 L658.2 384.2 L659.9 379.9 L661.7 375.7 L663.4 371.5 L665.1 367.6 L666.8 363.9 L668.6 360.5 L670.3 357.4 L672.0 354.6 L673.7 352.3 L675.4 350.5 L677.2 349.2 L678.9 348.0 L680.6 346.6 L682.3 345.0 L684.0 343.3 L685.8 341.4 L687.5 339.3 L689.2 337.1 L690.9 334.9 L692.7 332.6 L694.4 330.3 L696.1 328.0 L697.8 325.7 L699.6 323.4 L701.3 321.2 L703.0 319.1 L704.7 317.1 L706.4 315.3 L708.2 313.6 L709.9 312.1 L711.6 310.8 L713.3 309.8 L715.1 309.0 L716.8 308.5 L718.5 308.4 L720.2 308.5 L721.9 309.0 L723.7 309.8 L725.4 310.8 L727.1 312.1 L728.8 313.6 L730.6 315.3 L732.3 317.1 L734.0 319.1 L735.7 321.2 L737.4 323.4 L739.2 325.7 L740.9 328.0 L742.6 330.3 L744.3 332.6 L746.1 334.9 L747.8 337.1 L749.5 339.3 L751.2 341.4 L753.0 343.3 L754.7 345.0 L756.4 346.6 L758.1 348.0 L759.8 349.2 L761.6 350.5 L763.3 352.3 L765.0 354.6 L766.7 357.4 L768.4 360.5 L770.2 363.9 L771.9 367.6 L773.6 371.5 L775.3 375.7 L777.1 379.9 L778.8 384.2 L780.5 388.6 L782.2 392.9 L783.9 397.2 L785.7 401.3 L787.4 405.3 L789.1 409.1 L790.8 412.6 L792.6 415.8 L794.3 418.6 L796.0 421.0 L797.7 422.9 L799.4 424.4 L801.2 425.2 L802.9 425.8 L804.6 426.5 L806.3 427.3 L808.0 428.1 L809.8 428.9 L811.5 429.9 L813.2 430.8 L814.9 431.9 L816.7 432.9 L818.4 434.1 L820.1 435.2 L821.8 436.4 L823.6 437.7 L825.3 438.9 L827.0 440.2 L828.7 441.6 L830.4 442.9 L832.2 444.3 L833.9 445.7 L835.6 447.1 L837.3 448.5 L839.1 449.9 L840.8 451.4 L842.5 452.8" fill="none" stroke="#a09fca" stroke-width="1.0" stroke-linejoin="round"/>
<path d="M594.5 452.8 L596.2 450.9 L597.9 449.0 L599.7 447.0 L601.4 445.1 L603.1 443.3 L604.8 441.4 L606.6 439.6 L608.3 437.8 L610.0 436.0 L611.7 434.2 L613.4 432.5 L615.2 430.9 L616.9 429.3 L618.6 427.7 L620.3 426.2 L622.1 424.8 L623.8 423.4 L625.5 422.1 L627.2 420.8 L629.0 419.7 L630.7 418.6 L632.4 417.6 L634.1 416.7 L635.8 415.9 L637.6 414.8 L639.3 413.3 L641.0 411.3 L642.7 408.9 L644.4 406.2 L646.2 403.1 L647.9 399.7 L649.6 396.1 L651.3 392.3 L653.1 388.4 L654.8 384.4 L656.5 380.3 L658.2 376.2 L659.9 372.1 L661.7 368.1 L663.4 364.2 L665.1 360.5 L666.8 356.9 L668.6 353.7 L670.3 350.7 L672.0 348.0 L673.7 345.8 L675.4 343.9 L677.2 342.6 L678.9 341.3 L680.6 339.7 L682.3 338.0 L684.0 336.0 L685.8 333.8 L687.5 331.4 L689.2 329.0 L690.9 326.4 L692.7 323.8 L694.4 321.1 L696.1 318.4 L697.8 315.7 L699.6 313.1 L701.3 310.6 L703.0 308.1 L704.7 305.8 L706.4 303.7 L708.2 301.8 L709.9 300.0 L711.6 298.5 L713.3 297.3 L715.1 296.4 L716.8 295.9 L718.5 295.7 L720.2 295.9 L721.9 296.4 L723.7 297.3 L725.4 298.5 L727.1 300.0 L728.8 301.8 L730.6 303.7 L732.3 305.8 L734.0 308.1 L735.7 310.6 L737.4 313.1 L739.2 315.7 L740.9 318.4 L742.6 321.1 L744.3 323.8 L746.1 326.4 L747.8 329.0 L749.5 331.4 L751.2 333.8 L753.0 336.0 L754.7 338.0 L756.4 339.7 L758.1 341.3 L759.8 342.6 L761.6 343.9 L763.3 345.8 L765.0 348.0 L766.7 350.7 L768.4 353.7 L770.2 356.9 L771.9 360.5 L773.6 364.2 L775.3 368.1 L777.1 372.1 L778.8 376.2 L780.5 380.3 L782.2 384.4 L783.9 388.4 L785.7 392.3 L787.4 396.1 L789.1 399.7 L790.8 403.1 L792.6 406.2 L794.3 408.9 L796.0 411.3 L797.7 413.3 L799.4 414.8 L801.2 415.9 L802.9 416.7 L804.6 417.6 L806.3 418.6 L808.0 419.7 L809.8 420.8 L811.5 422.1 L813.2 423.4 L814.9 424.8 L816.7 426.2 L818.4 427.7 L820.1 429.3 L821.8 430.9 L823.6 432.5 L825.3 434.2 L827.0 436.0 L828.7 437.8 L830.4 439.6 L832.2 441.4 L833.9 443.3 L835.6 445.1 L837.3 447.0 L839.1 449.0 L840.8 450.9 L842.5 452.8" fill="none" stroke="#6f8bc2" stroke-width="1.1" stroke-linejoin="round"/>
<path d="M594.5 452.8 L596.2 450.8 L597.9 448.8 L599.7 446.8 L601.4 444.8 L603.1 442.8 L604.8 440.9 L606.6 439.0 L608.3 437.1 L610.0 435.2 L611.7 433.4 L613.4 431.6 L615.2 429.9 L616.9 428.2 L618.6 426.6 L620.3 425.0 L622.1 423.5 L623.8 422.1 L625.5 420.7 L627.2 419.4 L629.0 418.2 L630.7 417.1 L632.4 416.0 L634.1 415.1 L635.8 414.2 L637.6 413.1 L639.3 411.2 L641.0 408.8 L642.7 405.8 L644.4 402.4 L646.2 398.5 L647.9 394.2 L649.6 389.7 L651.3 384.8 L653.1 379.8 L654.8 374.6 L656.5 369.4 L658.2 364.1 L659.9 358.9 L661.7 353.8 L663.4 348.8 L665.1 344.0 L666.8 339.6 L668.6 335.4 L670.3 331.6 L672.0 328.3 L673.7 325.5 L675.4 323.2 L677.2 321.6 L678.9 320.2 L680.6 318.4 L682.3 316.4 L684.0 314.2 L685.8 311.8 L687.5 309.3 L689.2 306.6 L690.9 303.8 L692.7 301.0 L694.4 298.1 L696.1 295.2 L697.8 292.3 L699.6 289.5 L701.3 286.8 L703.0 284.2 L704.7 281.7 L706.4 279.4 L708.2 277.3 L709.9 275.5 L711.6 273.9 L713.3 272.6 L715.1 271.7 L716.8 271.1 L718.5 270.9 L720.2 271.1 L721.9 271.7 L723.7 272.6 L725.4 273.9 L727.1 275.5 L728.8 277.3 L730.6 279.4 L732.3 281.7 L734.0 284.2 L735.7 286.8 L737.4 289.5 L739.2 292.3 L740.9 295.2 L742.6 298.1 L744.3 301.0 L746.1 303.8 L747.8 306.6 L749.5 309.3 L751.2 311.8 L753.0 314.2 L754.7 316.4 L756.4 318.4 L758.1 320.2 L759.8 321.6 L761.6 323.2 L763.3 325.5 L765.0 328.3 L766.7 331.6 L768.4 335.4 L770.2 339.6 L771.9 344.0 L773.6 348.8 L775.3 353.8 L777.1 358.9 L778.8 364.1 L780.5 369.4 L782.2 374.6 L783.9 379.8 L785.7 384.8 L787.4 389.7 L789.1 394.2 L790.8 398.5 L792.6 402.4 L794.3 405.8 L796.0 408.8 L797.7 411.2 L799.4 413.1 L801.2 414.2 L802.9 415.1 L804.6 416.0 L806.3 417.1 L808.0 418.2 L809.8 419.4 L811.5 420.7 L813.2 422.1 L814.9 423.5 L816.7 425.0 L818.4 426.6 L820.1 428.2 L821.8 429.9 L823.6 431.6 L825.3 433.4 L827.0 435.2 L828.7 437.1 L830.4 439.0 L832.2 440.9 L833.9 442.8 L835.6 444.8 L837.3 446.8 L839.1 448.8 L840.8 450.8 L842.5 452.8" fill="none" stroke="#a5d2a0" stroke-width="1.0" stroke-linejoin="round"/>
<path d="M594.5 452.8 L596.2 451.4 L597.9 450.0 L599.7 448.6 L601.4 447.2 L603.1 445.8 L604.8 444.5 L606.6 443.1 L608.3 441.8 L610.0 440.5 L611.7 439.2 L613.4 438.0 L615.2 436.8 L616.9 435.6 L618.6 434.4 L620.3 433.3 L622.1 432.3 L623.8 431.3 L625.5 430.3 L627.2 429.4 L629.0 428.6 L630.7 427.8 L632.4 427.1 L634.1 426.4 L635.8 425.8 L637.6 425.0 L639.3 423.8 L641.0 422.2 L642.7 420.3 L644.4 418.1 L646.2 415.6 L647.9 412.9 L649.6 410.0 L651.3 407.0 L653.1 403.8 L654.8 400.5 L656.5 397.2 L658.2 393.8 L659.9 390.5 L661.7 387.3 L663.4 384.1 L665.1 381.1 L666.8 378.3 L668.6 375.6 L670.3 373.2 L672.0 371.1 L673.7 369.3 L675.4 367.9 L677.2 366.8 L678.9 365.8 L680.6 364.7 L682.3 363.4 L684.0 361.9 L685.8 360.4 L687.5 358.7 L689.2 356.9 L690.9 355.0 L692.7 353.2 L694.4 351.2 L696.1 349.3 L697.8 347.4 L699.6 345.6 L701.3 343.7 L703.0 342.0 L704.7 340.4 L706.4 338.9 L708.2 337.5 L709.9 336.2 L711.6 335.2 L713.3 334.3 L715.1 333.7 L716.8 333.3 L718.5 333.2 L720.2 333.3 L721.9 333.7 L723.7 334.3 L725.4 335.2 L727.1 336.2 L728.8 337.5 L730.6 338.9 L732.3 340.4 L734.0 342.0 L735.7 343.7 L737.4 345.6 L739.2 347.4 L740.9 349.3 L742.6 351.2 L744.3 353.2 L746.1 355.0 L747.8 356.9 L749.5 358.7 L751.2 360.4 L753.0 361.9 L754.7 363.4 L756.4 364.7 L758.1 365.8 L759.8 366.8 L761.6 367.9 L763.3 369.3 L765.0 371.1 L766.7 373.2 L768.4 375.6 L770.2 378.3 L771.9 381.1 L773.6 384.1 L775.3 387.3 L777.1 390.5 L778.8 393.8 L780.5 397.2 L782.2 400.5 L783.9 403.8 L785.7 407.0 L787.4 410.0 L789.1 412.9 L790.8 415.6 L792.6 418.1 L794.3 420.3 L796.0 422.2 L797.7 423.8 L799.4 425.0 L801.2 425.8 L802.9 426.4 L804.6 427.1 L806.3 427.8 L808.0 428.6 L809.8 429.4 L811.5 430.3 L813.2 431.3 L814.9 432.3 L816.7 433.3 L818.4 434.4 L820.1 435.6 L821.8 436.8 L823.6 438.0 L825.3 439.2 L827.0 440.5 L828.7 441.8 L830.4 443.1 L832.2 444.5 L833.9 445.8 L835.6 447.2 L837.3 448.6 L839.1 450.0 L840.8 451.4 L842.5 452.8" fill="none" stroke="#cfafbc" stroke-width="1.0" stroke-linejoin="round"/>
<path d="M594.5 452.8 L596.2 450.8 L597.9 448.9 L599.7 446.9 L601.4 445.0 L603.1 443.0 L604.8 441.1 L606.6 439.2 L608.3 437.4 L610.0 435.6 L611.7 433.8 L613.4 432.0 L615.2 430.3 L616.9 428.7 L618.6 427.1 L620.3 425.6 L622.1 424.1 L623.8 422.7 L625.5 421.3 L627.2 420.1 L629.0 418.9 L630.7 417.8 L632.4 416.8 L634.1 415.8 L635.8 415.0 L637.6 413.9 L639.3 412.3 L641.0 410.1 L642.7 407.6 L644.4 404.6 L646.2 401.2 L647.9 397.6 L649.6 393.7 L651.3 389.5 L653.1 385.2 L654.8 380.8 L656.5 376.4 L658.2 371.9 L659.9 367.4 L661.7 363.1 L663.4 358.8 L665.1 354.8 L666.8 350.9 L668.6 347.4 L670.3 344.1 L672.0 341.3 L673.7 338.8 L675.4 336.8 L677.2 335.4 L678.9 334.1 L680.6 332.5 L682.3 330.6 L684.0 328.5 L685.8 326.3 L687.5 323.9 L689.2 321.4 L690.9 318.7 L692.7 316.0 L694.4 313.3 L696.1 310.6 L697.8 307.9 L699.6 305.2 L701.3 302.6 L703.0 300.1 L704.7 297.8 L706.4 295.6 L708.2 293.6 L709.9 291.8 L711.6 290.3 L713.3 289.1 L715.1 288.2 L716.8 287.6 L718.5 287.4 L720.2 287.6 L721.9 288.2 L723.7 289.1 L725.4 290.3 L727.1 291.8 L728.8 293.6 L730.6 295.6 L732.3 297.8 L734.0 300.1 L735.7 302.6 L737.4 305.2 L739.2 307.9 L740.9 310.6 L742.6 313.3 L744.3 316.0 L746.1 318.7 L747.8 321.4 L749.5 323.9 L751.2 326.3 L753.0 328.5 L754.7 330.6 L756.4 332.5 L758.1 334.1 L759.8 335.4 L761.6 336.8 L763.3 338.8 L765.0 341.3 L766.7 344.1 L768.4 347.4 L770.2 350.9 L771.9 354.8 L773.6 358.8 L775.3 363.1 L777.1 367.4 L778.8 371.9 L780.5 376.4 L782.2 380.8 L783.9 385.2 L785.7 389.5 L787.4 393.7 L789.1 397.6 L790.8 401.2 L792.6 404.6 L794.3 407.6 L796.0 410.1 L797.7 412.3 L799.4 413.9 L801.2 415.0 L802.9 415.8 L804.6 416.8 L806.3 417.8 L808.0 418.9 L809.8 420.1 L811.5 421.3 L813.2 422.7 L814.9 424.1 L816.7 425.6 L818.4 427.1 L820.1 428.7 L821.8 430.3 L823.6 432.0 L825.3 433.8 L827.0 435.6 L828.7 437.4 L830.4 439.2 L832.2 441.1 L833.9 443.0 L835.6 445.0 L837.3 446.9 L839.1 448.9 L840.8 450.8 L842.5 452.8" fill="none" stroke="#a94b58" stroke-width="1.2" stroke-linejoin="round"/>
<circle cx="635.8" cy="416.4" r="4.70" fill="#c8c8c8" fill-opacity="0.5"/>
<circle cx="677.2" cy="333.7" r="4.70" fill="#c8c8c8" fill-opacity="0.86"/>
<circle cx="718.5" cy="296.2" r="4.70" fill="#c8c8c8" fill-opacity="0.86"/>
<circle cx="759.8" cy="342.6" r="4.70" fill="#c8c8c8" fill-opacity="0.86"/>
<circle cx="801.2" cy="416.4" r="4.70" fill="#c8c8c8" fill-opacity="0.5"/>
<rect x="631.2" y="420.6" width="9.3" height="9.3" fill="#9a98c6" fill-opacity="0.5"/>
<rect x="672.5" y="344.5" width="9.3" height="9.3" fill="#9a98c6" fill-opacity="0.86"/>
<rect x="713.9" y="303.7" width="9.3" height="9.3" fill="#9a98c6" fill-opacity="0.86"/>
<rect x="755.2" y="344.5" width="9.3" height="9.3" fill="#9a98c6" fill-opacity="0.86"/>
<rect x="796.5" y="420.6" width="9.3" height="9.3" fill="#9a98c6" fill-opacity="0.5"/>
<path d="M635.8 409.5 L642.2 415.9 L635.8 422.3 L629.4 415.9 Z" fill="#668ac6" fill-opacity="0.5"/>
<path d="M677.2 336.2 L683.6 342.6 L677.2 348.9 L670.8 342.6 Z" fill="#668ac6" fill-opacity="0.86"/>
<path d="M718.5 289.3 L724.9 295.7 L718.5 302.1 L712.1 295.7 Z" fill="#668ac6" fill-opacity="0.86"/>
<path d="M759.8 336.2 L766.2 342.6 L759.8 348.9 L753.4 342.6 Z" fill="#668ac6" fill-opacity="0.86"/>
<path d="M801.2 409.5 L807.6 415.9 L801.2 422.3 L794.8 415.9 Z" fill="#668ac6" fill-opacity="0.5"/>
<path d="M631.4 409.8 L640.2 409.8 L635.8 418.6 Z" fill="#a0cc9b" fill-opacity="0.5"/>
<path d="M672.8 317.2 L681.6 317.2 L677.2 326.0 Z" fill="#a0cc9b" fill-opacity="0.86"/>
<path d="M714.1 266.5 L722.9 266.5 L718.5 275.3 Z" fill="#a0cc9b" fill-opacity="0.86"/>
<path d="M755.4 317.2 L764.2 317.2 L759.8 326.0 Z" fill="#a0cc9b" fill-opacity="0.86"/>
<path d="M796.8 409.8 L805.6 409.8 L801.2 418.6 Z" fill="#a0cc9b" fill-opacity="0.5"/>
<path d="M631.4 430.2 L640.2 430.2 L635.8 421.4 Z" fill="#c9adb9" fill-opacity="0.5"/>
<path d="M672.8 371.2 L681.6 371.2 L677.2 362.4 Z" fill="#c9adb9" fill-opacity="0.86"/>
<path d="M714.1 337.6 L722.9 337.6 L718.5 328.8 Z" fill="#c9adb9" fill-opacity="0.86"/>
<path d="M755.4 371.2 L764.2 371.2 L759.8 362.4 Z" fill="#c9adb9" fill-opacity="0.86"/>
<path d="M796.8 430.2 L805.6 430.2 L801.2 421.4 Z" fill="#c9adb9" fill-opacity="0.5"/>
<path d="M594.5 446.6 L600.7 452.8 L594.5 459.0 L588.3 452.8 Z" fill="#fff" fill-opacity="0.55" stroke="#9aa6bd" stroke-opacity="0.5" stroke-width="0.9" stroke-dasharray="1.6 1.4"/>
<path d="M590.5 446.6 L594.5 446.6 L592.5 450.6 Z" fill="#a0cc9b" fill-opacity="0.45"/>
<path d="M599.4 449.2 L599.4 457.0 L591.6 453.1 Z" fill="#a04150" fill-opacity="0.86"/>
<path d="M641.4 410.6 L641.4 419.4 L632.6 415.0 Z" fill="#a04150" fill-opacity="0.86"/>
<path d="M682.8 331.0 L682.8 339.8 L674.0 335.4 Z" fill="#a04150" fill-opacity="0.86"/>
<path d="M724.1 283.0 L724.1 291.8 L715.3 287.4 Z" fill="#a04150" fill-opacity="0.86"/>
<path d="M765.4 331.0 L765.4 339.8 L756.6 335.4 Z" fill="#a04150" fill-opacity="0.86"/>
<path d="M806.8 410.6 L806.8 419.4 L798.0 415.0 Z" fill="#a04150" fill-opacity="0.86"/>
<path d="M842.5 446.6 L848.7 452.8 L842.5 459.0 L836.3 452.8 Z" fill="#fff" fill-opacity="0.55" stroke="#9aa6bd" stroke-opacity="0.5" stroke-width="0.9" stroke-dasharray="1.6 1.4"/>
<path d="M837.1 446.2 L841.9 446.2 L839.5 451.0 Z" fill="#a0cc9b" fill-opacity="0.6"/>
<path d="M848.2 449.2 L848.2 457.0 L840.4 453.1 Z" fill="#a04150" fill-opacity="0.86"/>
<circle cx="884.8" cy="304.8" r="4.70" fill="#c8c8c8" fill-opacity="0.86"/>
<text x="913.6" y="309.3" font-size="16.9" text-anchor="start" fill="#000" stroke="#000" stroke-width="0.15">Ti<tspan font-size="10.4" dy="0.3">2</tspan><tspan dy="-0.3" font-size="16.9">&#8203;</tspan>AlN</text>
<rect x="880.1" y="324.0" width="9.3" height="9.3" fill="#9a98c6" fill-opacity="0.86"/>
<text x="913.6" y="333.1" font-size="16.9" text-anchor="start" fill="#000" stroke="#000" stroke-width="0.15">Mn<tspan font-size="10.4" dy="0.3">2</tspan><tspan dy="-0.3" font-size="16.9">&#8203;</tspan>AlC</text>
<path d="M884.8 345.4 L891.2 351.8 L884.8 358.2 L878.4 351.8 Z" fill="#668ac6" fill-opacity="0.86"/>
<text x="913.6" y="356.3" font-size="16.9" text-anchor="start" fill="#000" stroke="#000" stroke-width="0.15">Ti<tspan font-size="10.4" dy="0.3">2</tspan><tspan dy="-0.3" font-size="16.9">&#8203;</tspan>AlC</text>
<path d="M880.4 370.0 L889.2 370.0 L884.8 378.8 Z" fill="#a0cc9b" fill-opacity="0.86"/>
<text x="913.6" y="378.9" font-size="16.9" text-anchor="start" fill="#000" stroke="#000" stroke-width="0.15">Nb<tspan font-size="10.4" dy="0.3">2</tspan><tspan dy="-0.3" font-size="16.9">&#8203;</tspan>AlC</text>
<path d="M880.4 402.6 L889.2 402.6 L884.8 393.8 Z" fill="#c9adb9" fill-opacity="0.86"/>
<text x="913.6" y="402.7" font-size="16.9" text-anchor="start" fill="#000" stroke="#000" stroke-width="0.15">Sc<tspan font-size="10.4" dy="0.3">3</tspan><tspan dy="-0.3" font-size="16.9">&#8203;</tspan>AlN<tspan font-size="10.4" dy="0.3">2</tspan><tspan dy="-0.3" font-size="16.9">&#8203;</tspan></text>
<path d="M889.2 417.3 L889.2 426.1 L880.4 421.7 Z" fill="#a04150" fill-opacity="0.86"/>
<text x="913.6" y="426.2" font-size="16.9" text-anchor="start" fill="#000" stroke="#000" stroke-width="0.15">Zr<tspan font-size="10.4" dy="0.3">4</tspan><tspan dy="-0.3" font-size="16.9">&#8203;</tspan>AlC<tspan font-size="10.4" dy="0.3">3</tspan><tspan dy="-0.3" font-size="16.9">&#8203;</tspan></text>
</svg>
</body></html>
